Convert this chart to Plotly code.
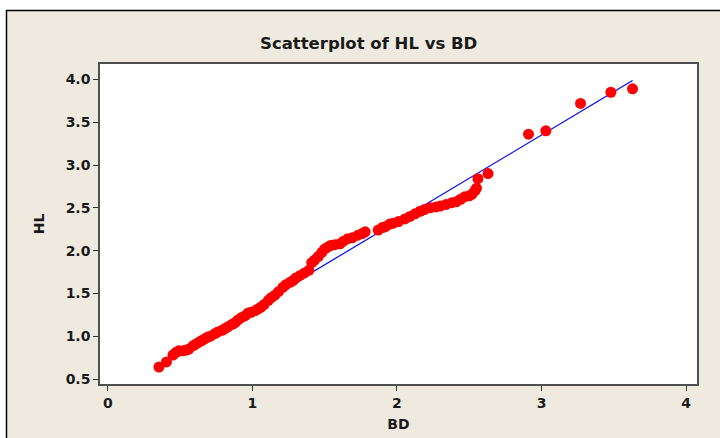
import plotly.graph_objects as go

# ---- data ----
BD = [0.353, 0.405, 0.45, 0.47, 0.49, 0.52, 0.545, 0.56, 0.59, 0.61, 0.63, 0.65,
      0.67, 0.69, 0.71, 0.74, 0.76, 0.79, 0.81, 0.83, 0.86, 0.88, 0.90, 0.925,
      0.95, 0.97, 0.99, 1.02, 1.04, 1.06, 1.08, 1.11, 1.13, 1.155, 1.18, 1.21,
      1.23, 1.26, 1.28, 1.30, 1.33, 1.36, 1.39, 1.41, 1.43, 1.455, 1.48, 1.50,
      1.52, 1.54, 1.57, 1.605, 1.63, 1.66, 1.69, 1.73, 1.76, 1.78, 1.87, 1.90,
      1.92, 1.95, 1.975, 2.01, 2.055, 2.09, 2.125, 2.16, 2.19, 2.23, 2.27, 2.30,
      2.34, 2.38, 2.41, 2.44, 2.47, 2.50, 2.52, 2.54, 2.55, 2.56, 2.63, 2.91,
      3.03, 3.27, 3.48, 3.63]
HL = [0.64, 0.70, 0.78, 0.81, 0.83, 0.83, 0.84, 0.85, 0.89, 0.91, 0.93, 0.95,
      0.97, 0.99, 1.00, 1.03, 1.05, 1.07, 1.09, 1.11, 1.14, 1.16, 1.19, 1.22,
      1.24, 1.27, 1.28, 1.30, 1.32, 1.34, 1.37, 1.42, 1.45, 1.48, 1.52, 1.57,
      1.60, 1.63, 1.65, 1.68, 1.71, 1.74, 1.77, 1.86, 1.89, 1.93, 1.98, 2.02,
      2.04, 2.06, 2.07, 2.08, 2.11, 2.14, 2.15, 2.18, 2.20, 2.22, 2.24, 2.27,
      2.28, 2.31, 2.32, 2.34, 2.37, 2.40, 2.43, 2.46, 2.48, 2.50, 2.51, 2.52,
      2.54, 2.56, 2.57, 2.60, 2.63, 2.64, 2.66, 2.70, 2.73, 2.84, 2.90, 3.36,
      3.40, 3.72, 3.85, 3.89]

fit_slope = 1.01
fit_intercept = 0.32

x_ticks = [0, 1, 2, 3, 4]
y_ticks = [0.5, 1.0, 1.5, 2.0, 2.5, 3.0, 3.5, 4.0]

# ---- figure ----
W, H = 720, 438
ML, MR, MT, MB = 100, 23, 64, 54
PW, PH = W - ML - MR, H - MT - MB

def px_x(p):
    return (p - ML) / PW

def px_y(p):
    return (H - MB - p) / PH

fit_x = [min(BD), max(BD)]
fit_y = [fit_slope * v + fit_intercept for v in fit_x]

FONT = "DejaVu Sans"
TXT = "#1a1a1a"

fig = go.Figure()
fig.add_trace(go.Scatter(x=fit_x, y=fit_y, mode="lines",
                         line=dict(color="#0000ff", width=1.2),
                         hoverinfo="skip", showlegend=False))
fig.add_trace(go.Scatter(x=BD, y=HL, mode="markers",
                         marker=dict(color="#ff0000", size=11, line=dict(width=0)),
                         showlegend=False))

axis_common = dict(
    showgrid=False, zeroline=False, showline=True, mirror=True,
    linecolor="#505050", linewidth=1.5, automargin=False,
    ticks="outside", ticklen=5, tickwidth=1.2, tickcolor="#303030",
    tickfont=dict(family=FONT, size=14, color=TXT, weight="bold"),
)

fig.update_layout(
    width=W, height=H,
    margin=dict(l=ML, r=MR, t=MT, b=MB),
    paper_bgcolor="#eeeadf",
    plot_bgcolor="#ffffff",
    title=dict(text="Scatterplot of HL vs BD", x=0.512, xref="container",
               xanchor="center", y=1 - 43 / H, yref="container", yanchor="middle",
               font=dict(family=FONT, size=16.5, color=TXT, weight="bold")),
    xaxis=dict(range=[-0.055, 4.076], tickvals=x_ticks,
               ticktext=[str(v) for v in x_ticks],
               title=dict(text="BD", standoff=10,
                          font=dict(family=FONT, size=14, color=TXT, weight="bold")),
               **axis_common),
    yaxis=dict(range=[0.442, 4.18], tickvals=y_ticks,
               ticktext=[f"{v:.1f}" for v in y_ticks],
               title=dict(text="HL", standoff=18,
                          font=dict(family=FONT, size=14, color=TXT, weight="bold")),
               **axis_common),
    shapes=[
        # white band at top and left of the outer frame
        dict(type="rect", xref="paper", yref="paper", x0=px_x(0), x1=px_x(W),
             y0=px_y(10), y1=px_y(0), fillcolor="#ffffff", line=dict(width=0), layer="above"),
        dict(type="rect", xref="paper", yref="paper", x0=px_x(0), x1=px_x(6),
             y0=px_y(H), y1=px_y(0), fillcolor="#ffffff", line=dict(width=0), layer="above"),
        # outer black frame (top and left edges)
        dict(type="line", xref="paper", yref="paper", x0=px_x(6), x1=px_x(W),
             y0=px_y(10.5), y1=px_y(10.5), line=dict(color="#000000", width=1.5)),
        dict(type="line", xref="paper", yref="paper", x0=px_x(6.5), x1=px_x(6.5),
             y0=px_y(10), y1=px_y(H), line=dict(color="#000000", width=1.5)),
    ],
)

fig.write_html("out.html")
